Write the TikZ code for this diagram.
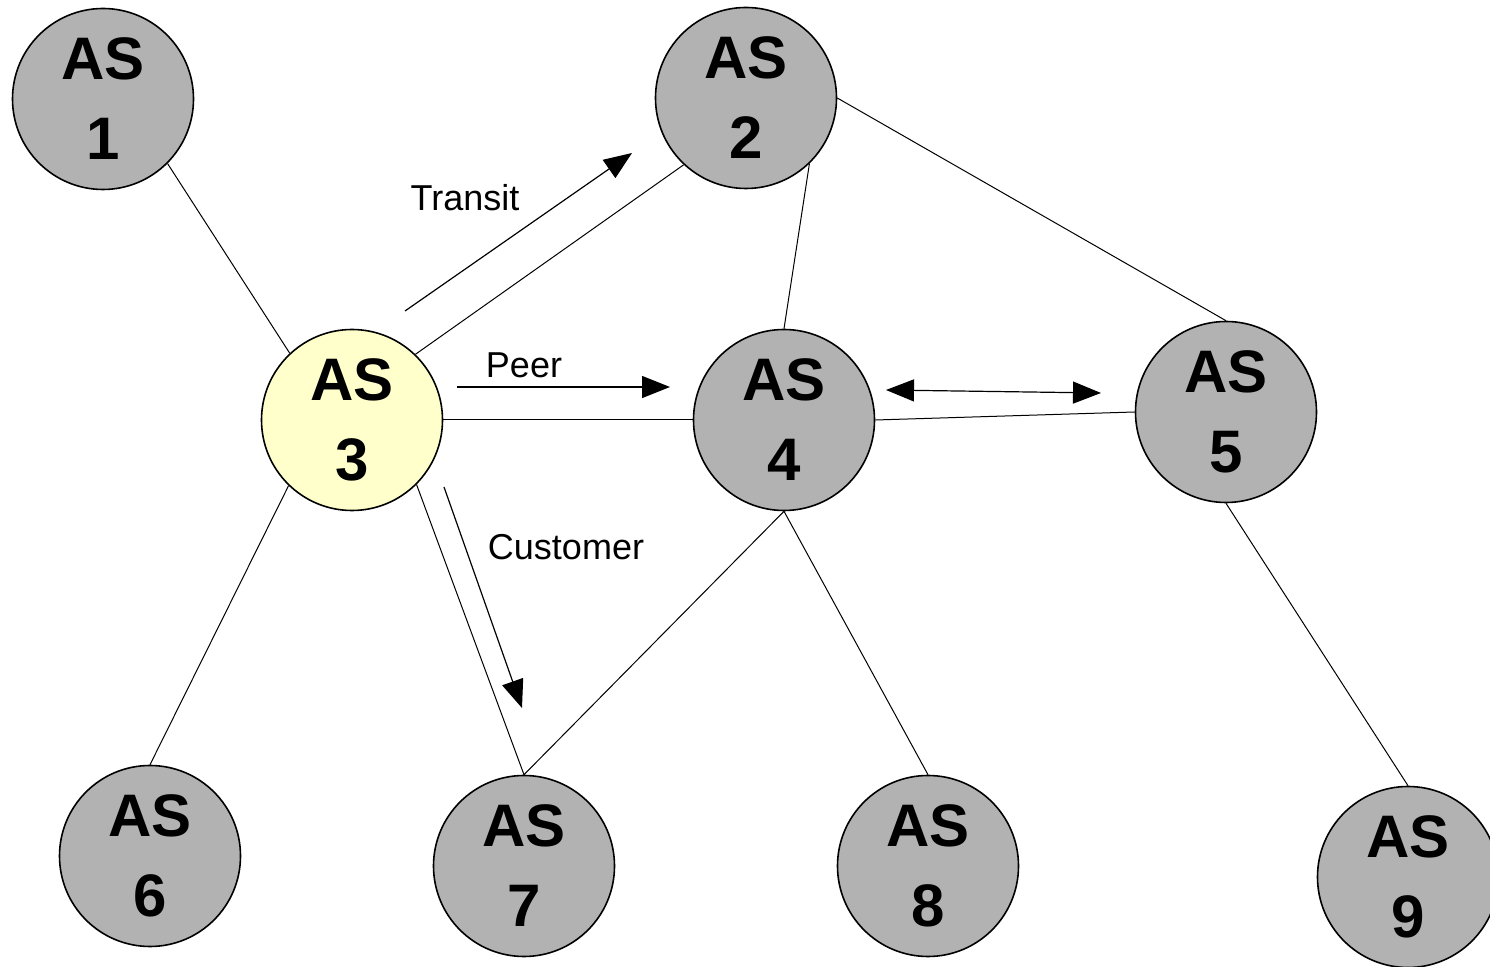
\documentclass[tikz,border=0pt]{standalone}
\usepackage{fontspec}
\setmainfont{Liberation Sans}
\usetikzlibrary{arrows.meta}
\definecolor{asgray}{RGB}{178,178,178}
\definecolor{asyellow}{RGB}{255,255,204}
\tikzset{
  asnode/.style={circle, draw=black, line width=0.8pt, fill=asgray, minimum size=90.5pt,
    inner sep=0pt, align=center, font=\fontsize{30}{40}\selectfont\bfseries},
  home/.style={asnode, fill=asyellow},
  link/.style={draw=black, line width=0.5pt},
  rel/.style={draw=black, line width=0.6pt, -{Triangle[length=14pt,width=11pt]}},
  relboth/.style={draw=black, line width=0.6pt, {Triangle[length=14pt,width=11pt]}-{Triangle[length=14pt,width=11pt]}},
  lbl/.style={font=\fontsize{18}{20}\selectfont, inner sep=0pt}
}
\begin{document}
\begin{tikzpicture}[x=0.5pt,y=-0.5pt]
\useasboundingbox (0,0) rectangle (1490,967);

% autonomous systems
\node[asnode] (as1) at (103,99)   {AS\\1};
\node[asnode] (as2) at (746,98)   {AS\\2};
\node[home]   (as3) at (352,420)  {AS\\3};
\node[asnode] (as4) at (784,420)  {AS\\4};
\node[asnode] (as5) at (1226,412) {AS\\5};
\node[asnode] (as6) at (150,856)  {AS\\6};
\node[asnode] (as7) at (524,866)  {AS\\7};
\node[asnode] (as8) at (928,866)  {AS\\8};
\node[asnode] (as9) at (1408,877) {AS\\9};

% links
\draw[link] (as1.-45) -- (as3.133);
\draw[link] (as3.46) -- (as2.-133);
\draw[link] (as3.east) -- (as4.west);
\draw[link] (as3.-134) -- (as6.north);
\draw[link] (as3.-45) -- (as7.north);
\draw[link] (as2.-46) -- (as4.north);
\draw[link] (as2.east) -- (as5.north);
\draw[link] (as4.east) -- (as5.west);
\draw[link] (as4.south) -- (as7.north);
\draw[link] (as4.south) -- (as8.north);
\draw[link] (as5.south) -- (as9.north);

% relationship arrows
\coordinate (t0) at (405,311);  \coordinate (t1) at (632,153);
\coordinate (p0) at (457,387);  \coordinate (p1) at (670,387);
\coordinate (c0) at (444,487);  \coordinate (c1) at (522,708);
\coordinate (d0) at (886,390);  \coordinate (d1) at (1101,393);
\draw[rel] (t0) -- (t1);
\draw[rel] (p0) -- (p1);
\draw[rel] (c0) -- (c1);
\draw[relboth] (d0) -- (d1);

\node[lbl] (ltransit) at (465,198) {Transit};
\node[lbl] (lpeer) at (524,365) {Peer};
\node[lbl] (lcust) at (566,547) {Customer};
\end{tikzpicture}
\end{document}
